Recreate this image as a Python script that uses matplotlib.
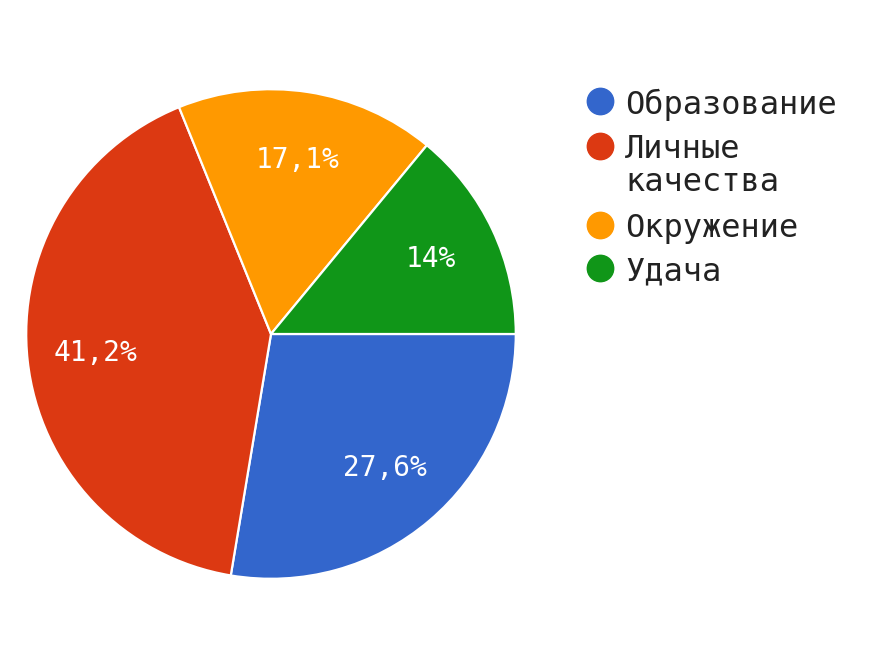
import matplotlib
matplotlib.use("Agg")
import matplotlib.pyplot as plt
from matplotlib.lines import Line2D

categories = ["Образование", "Личные\nкачества", "Окружение", "Удача"]
values = [27.6, 41.2, 17.1, 14.0]
labels = ["27,6%", "41,2%", "17,1%", "14%"]
colors = ["#3366cc", "#dc3912", "#ff9900", "#109618"]

W, H = 888, 660
fig = plt.figure(figsize=(W / 100, H / 100), dpi=100)
fig.patch.set_facecolor("white")

cx, cy, r = 271, 334, 246
ax = fig.add_axes([(cx - r) / W, (H - cy - r) / H, 2 * r / W, 2 * r / H])
wedges, texts = ax.pie(values, colors=colors, startangle=0, counterclock=False,
                       labels=labels, labeldistance=0.72, radius=1,
                       wedgeprops=dict(edgecolor="white", linewidth=1.6),
                       textprops=dict(color="white", fontsize=20,
                                      family="DejaVu Sans Mono"))
for t in texts:
    t.set_ha("center")
    t.set_va("center")
ax.set_xlim(-1.005, 1.005)
ax.set_ylim(-1.005, 1.005)
ax.set_aspect("equal")
ax.axis("off")

# legend
ys = [101, 146, 225, 268]
for cat, col, y in zip(categories, colors, ys):
    fig.add_artist(Line2D([600 / W], [1 - y / H], marker="o", markersize=19,
                          color=col, linestyle="none", transform=fig.transFigure))
    fig.text(625 / W, 1 - (y - 12) / H, cat, fontsize=23, color="#222222",
             family="DejaVu Sans Mono", ha="left", va="top", linespacing=1.1)

fig.savefig("out.png", dpi=100, facecolor="white")
